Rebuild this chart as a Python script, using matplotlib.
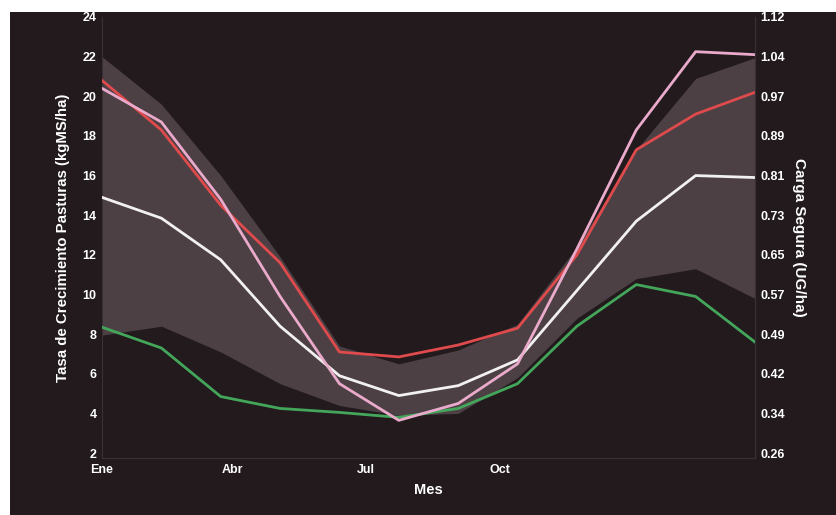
import matplotlib
matplotlib.use("Agg")
import matplotlib.pyplot as plt
from matplotlib.patches import Rectangle

# ---- data ----
months_idx = list(range(12))
band_upper = [22.0, 19.6, 16.0, 11.9, 7.4, 6.5, 7.2, 8.5, 12.4, 17.3, 20.9, 21.95]
band_lower = [7.95, 8.4, 7.1, 5.5, 4.4, 3.9, 4.0, 5.8, 8.8, 10.8, 11.3, 9.8]
red_line = [20.8, 18.3, 14.5, 11.6, 7.1, 6.85, 7.45, 8.3, 12.0, 17.3, 19.1, 20.2]
pink_line = [20.4, 18.7, 14.8, 9.9, 5.5, 3.65, 4.5, 6.5, 12.3, 18.3, 22.25, 22.1]
white_line = [14.9, 13.85, 11.75, 8.4, 5.9, 4.9, 5.4, 6.7, 10.2, 13.7, 16.0, 15.9]
green_line = [8.35, 7.3, 4.85, 4.25, 4.05, 3.8, 4.25, 5.5, 8.4, 10.5, 9.9, 7.6]

xtick_pos = [0, 2.2, 4.45, 6.7]
xtick_labels = ["Ene", "Abr", "Jul", "Oct"]
left_ticks = [2, 4, 6, 8, 10, 12, 14, 16, 18, 20, 22, 24]
right_labels = ["0.26", "0.34", "0.42", "0.49", "0.57", "0.65", "0.73",
                "0.81", "0.89", "0.97", "1.04", "1.12"]

BG = "#221a1c"
BAND = "#4c4044"
FONT = ["Liberation Sans Narrow", "Liberation Sans", "DejaVu Sans"]
plt.rcParams["font.family"] = FONT
plt.rcParams["font.weight"] = "bold"

fig = plt.figure(figsize=(8.36, 5.15), dpi=100, facecolor="white")
bg_rect = Rectangle((10 / 836, 0), 1 - 10 / 836, 1 - 12 / 515,
                    transform=fig.transFigure, facecolor=BG,
                    edgecolor="none", zorder=-10)
fig.patches.append(bg_rect)

ax = fig.add_axes([102 / 836, 1 - 458 / 515, (755 - 102) / 836, (458 - 17) / 515])
ax.set_facecolor(BG)
ax.fill_between(months_idx, band_lower, band_upper, color=BAND, lw=0, zorder=1)
ax.plot(months_idx, green_line, color="#43a65a", lw=2.0, zorder=3)
ax.plot(months_idx, white_line, color="#f2f0f0", lw=2.0, zorder=3)
ax.plot(months_idx, red_line, color="#df4a4c", lw=2.0, zorder=4)
ax.plot(months_idx, pink_line, color="#eaaacb", lw=2.0, zorder=5)

ax.set_xlim(0, 11)
ax.set_ylim(1.75, 24)
ax.set_xticks(xtick_pos)
ax.set_xticklabels(xtick_labels)
ax.set_yticks(left_ticks)
ax.tick_params(colors="white", length=0, labelsize=9, pad=4)
for lab in ax.get_xticklabels() + ax.get_yticklabels():
    lab.set_fontweight("bold")
ax.spines["top"].set_visible(False)
for s in ["left", "bottom", "right"]:
    ax.spines[s].set_color("#3a3034")
    ax.spines[s].set_linewidth(0.8)
ax.set_xlabel("Mes", color="white", fontsize=10.5, fontweight="bold", labelpad=5)
ax.set_ylabel("Tasa de Crecimiento Pasturas (kgMS/ha)", color="white",
              fontsize=10.8, fontweight="bold", labelpad=9)

ax2 = ax.twinx()
ax2.set_ylim(ax.get_ylim())
ax2.set_yticks(left_ticks)
ax2.set_yticklabels(right_labels)
ax2.tick_params(colors="white", length=0, labelsize=9, pad=4)
for lab in ax2.get_yticklabels():
    lab.set_fontweight("bold")
ax2.spines["top"].set_visible(False)
ax2.spines["right"].set_color("#3a3034")
ax2.spines["left"].set_visible(False)
ax2.spines["bottom"].set_visible(False)
ax2.set_ylabel("Carga Segura (UG/ha)", color="white", fontsize=11,
               fontweight="bold", rotation=270, labelpad=15)

fig.savefig("out.png", dpi=100, facecolor=fig.get_facecolor())
